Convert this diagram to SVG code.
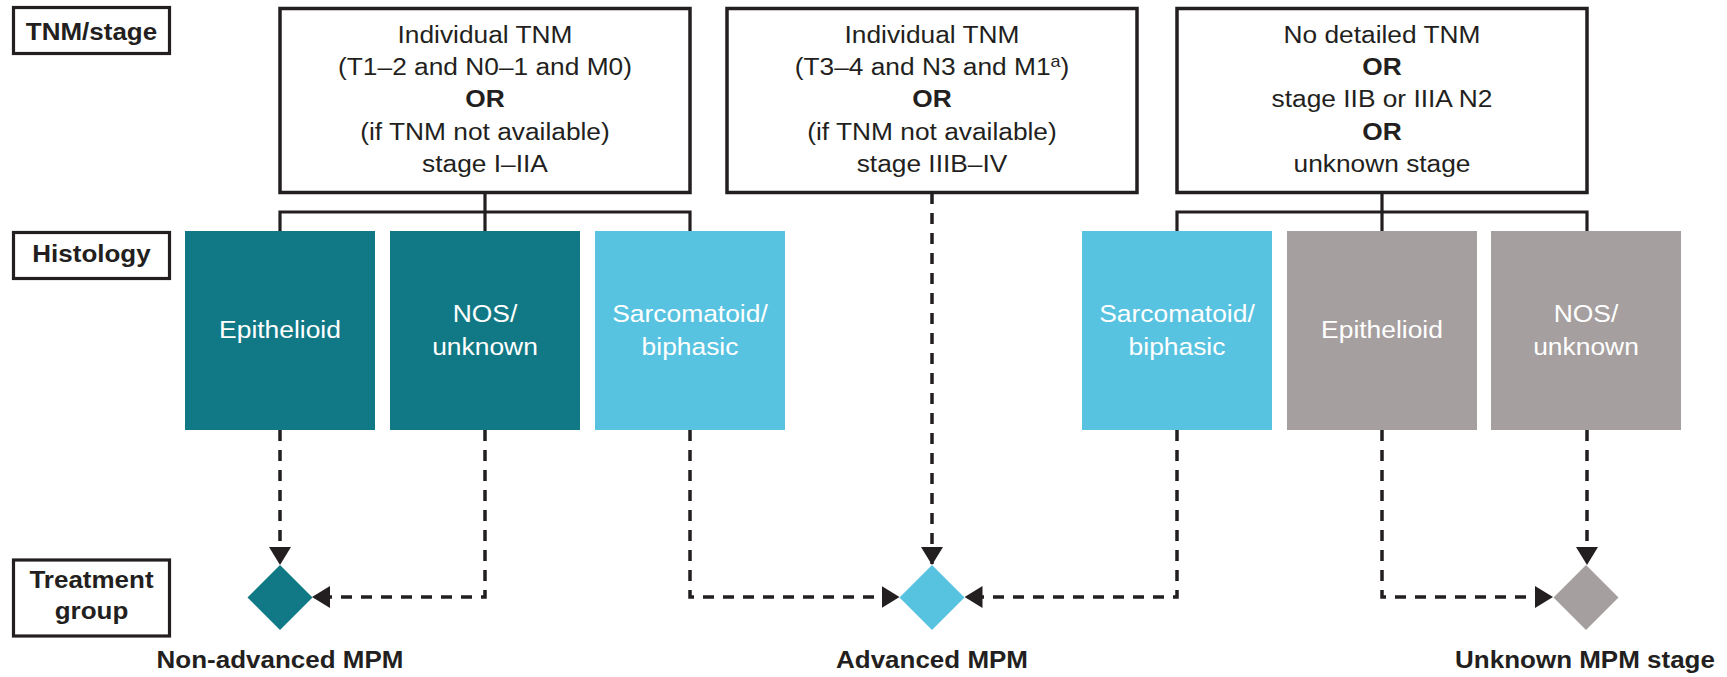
<svg xmlns="http://www.w3.org/2000/svg" width="1727" height="677" viewBox="0 0 1727 677">
<style>
.lbl{fill:#fff;stroke:#231f20;stroke-width:3.2}
.box{fill:#fff;stroke:#231f20;stroke-width:3.5}
.bt{font-family:"Liberation Sans",Arial,sans-serif;font-size:23.5px;fill:#231f20;text-anchor:middle}
.bold{font-weight:bold}
.lt{font-family:"Liberation Sans",Arial,sans-serif;font-size:23px;font-weight:bold;fill:#231f20;text-anchor:middle}
.ht{font-family:"Liberation Sans",Arial,sans-serif;font-size:24px;fill:#fff;text-anchor:middle}
.teal{fill:#117986}
.blue{fill:#58c3e0}
.grey{fill:#a69f9f}
.solid{fill:none;stroke:#231f20;stroke-width:3.2}
.dash{fill:none;stroke:#231f20;stroke-width:3.5;stroke-dasharray:11 9;marker-end:url(#arr)}
</style>
<defs>
<marker id="arr" viewBox="0 0 18 22" refX="18" refY="11" markerWidth="18" markerHeight="22" markerUnits="userSpaceOnUse" orient="auto">
<path d="M0,0 L18,11 L0,22 Z" fill="#231f20"/>
</marker>
</defs>
<rect width="1727" height="677" fill="#fff"/>

<g id="label-tnm">
<rect class="lbl" x="13.5" y="7.5" width="156" height="46"/>
<g transform="translate(91.5 0) scale(1.13 1)"><text class="lt" x="0" y="40">TNM/stage</text></g>
</g>
<g id="label-histology">
<rect class="lbl" x="13.5" y="232.5" width="156" height="46"/>
<g transform="translate(91.5 0) scale(1.13 1)"><text class="lt" x="0" y="262">Histology</text></g>
</g>
<g id="label-treatment">
<rect class="lbl" x="13.5" y="560" width="156" height="76"/>
<g transform="translate(91.5 0) scale(1.13 1)"><text class="lt" x="0" y="588">Treatment</text><text class="lt" x="0" y="619">group</text></g>
</g>

<g id="connectors">
<path class="solid" d="M485,193 V212 M280,231 V212 H690 V231 M485,212 V231"/>
<path class="solid" d="M1382,193 V212 M1177,231 V212 H1587 V231 M1382,212 V231"/>
<path class="dash" d="M280,430 V565"/>
<path class="dash" d="M485,430 V597 H312"/>
<path class="dash" d="M690,430 V597 H899.5"/>
<path class="dash" d="M932,193 V565"/>
<path class="dash" d="M1177,430 V597 H964.5"/>
<path class="dash" d="M1382,430 V597 H1553"/>
<path class="dash" d="M1587,430 V565"/>
</g>

<g id="tnm-box-1">
<rect class="box" x="280" y="8.5" width="410" height="184"/>
<g transform="translate(485 0) scale(1.12 1)">
<text class="bt" x="0" y="43.3">Individual TNM</text>
<text class="bt" x="0" y="75.4">(T1–2 and N0–1 and M0)</text>
<text class="bt bold" x="0" y="107.5">OR</text>
<text class="bt" x="0" y="139.6">(if TNM not available)</text>
<text class="bt" x="0" y="171.7">stage I–IIA</text>
</g>
</g>
<g id="tnm-box-2">
<rect class="box" x="727" y="8.5" width="410" height="184"/>
<g transform="translate(932 0) scale(1.12 1)">
<text class="bt" x="0" y="43.3">Individual TNM</text>
<text class="bt" x="0" y="75.4">(T3–4 and N3 and M1<tspan font-size="16" baseline-shift="super">a</tspan>)</text>
<text class="bt bold" x="0" y="107.5">OR</text>
<text class="bt" x="0" y="139.6">(if TNM not available)</text>
<text class="bt" x="0" y="171.7">stage IIIB–IV</text>
</g>
</g>
<g id="tnm-box-3">
<rect class="box" x="1177" y="8.5" width="410" height="184"/>
<g transform="translate(1382 0) scale(1.12 1)">
<text class="bt" x="0" y="43.3">No detailed TNM</text>
<text class="bt bold" x="0" y="75.4">OR</text>
<text class="bt" x="0" y="107.5">stage IIB or IIIA N2</text>
<text class="bt bold" x="0" y="139.6">OR</text>
<text class="bt" x="0" y="171.7">unknown stage</text>
</g>
</g>

<g id="hist-epithelioid-1">
<rect class="teal" x="185" y="231" width="190" height="199"/>
<g transform="translate(280 0) scale(1.1 1)"><text class="ht" x="0" y="338.5">Epithelioid</text></g>
</g>
<g id="hist-nos-1">
<rect class="teal" x="390" y="231" width="190" height="199"/>
<g transform="translate(485 0) scale(1.1 1)"><text class="ht" x="0" y="322">NOS/</text><text class="ht" x="0" y="355">unknown</text></g>
</g>
<g id="hist-sarcomatoid-1">
<rect class="blue" x="595" y="231" width="190" height="199"/>
<g transform="translate(690 0) scale(1.1 1)"><text class="ht" x="0" y="322">Sarcomatoid/</text><text class="ht" x="0" y="355">biphasic</text></g>
</g>
<g id="hist-sarcomatoid-2">
<rect class="blue" x="1082" y="231" width="190" height="199"/>
<g transform="translate(1177 0) scale(1.1 1)"><text class="ht" x="0" y="322">Sarcomatoid/</text><text class="ht" x="0" y="355">biphasic</text></g>
</g>
<g id="hist-epithelioid-2">
<rect class="grey" x="1287" y="231" width="190" height="199"/>
<g transform="translate(1382 0) scale(1.1 1)"><text class="ht" x="0" y="338.5">Epithelioid</text></g>
</g>
<g id="hist-nos-2">
<rect class="grey" x="1491" y="231" width="190" height="199"/>
<g transform="translate(1586 0) scale(1.1 1)"><text class="ht" x="0" y="322">NOS/</text><text class="ht" x="0" y="355">unknown</text></g>
</g>

<g id="group-non-advanced">
<path class="teal" d="M280,565 L312.5,597.5 L280,630 L247.5,597.5 Z"/>
<g transform="translate(280 0) scale(1.13 1)"><text class="lt" x="0" y="668">Non-advanced MPM</text></g>
</g>
<g id="group-advanced">
<path class="blue" d="M932,565 L964.5,597.5 L932,630 L899.5,597.5 Z"/>
<g transform="translate(932 0) scale(1.13 1)"><text class="lt" x="0" y="668">Advanced MPM</text></g>
</g>
<g id="group-unknown">
<path class="grey" d="M1586,565 L1618.5,597.5 L1586,630 L1553.5,597.5 Z"/>
<g transform="translate(1585 0) scale(1.13 1)"><text class="lt" x="0" y="668">Unknown MPM stage</text></g>
</g>
</svg>
